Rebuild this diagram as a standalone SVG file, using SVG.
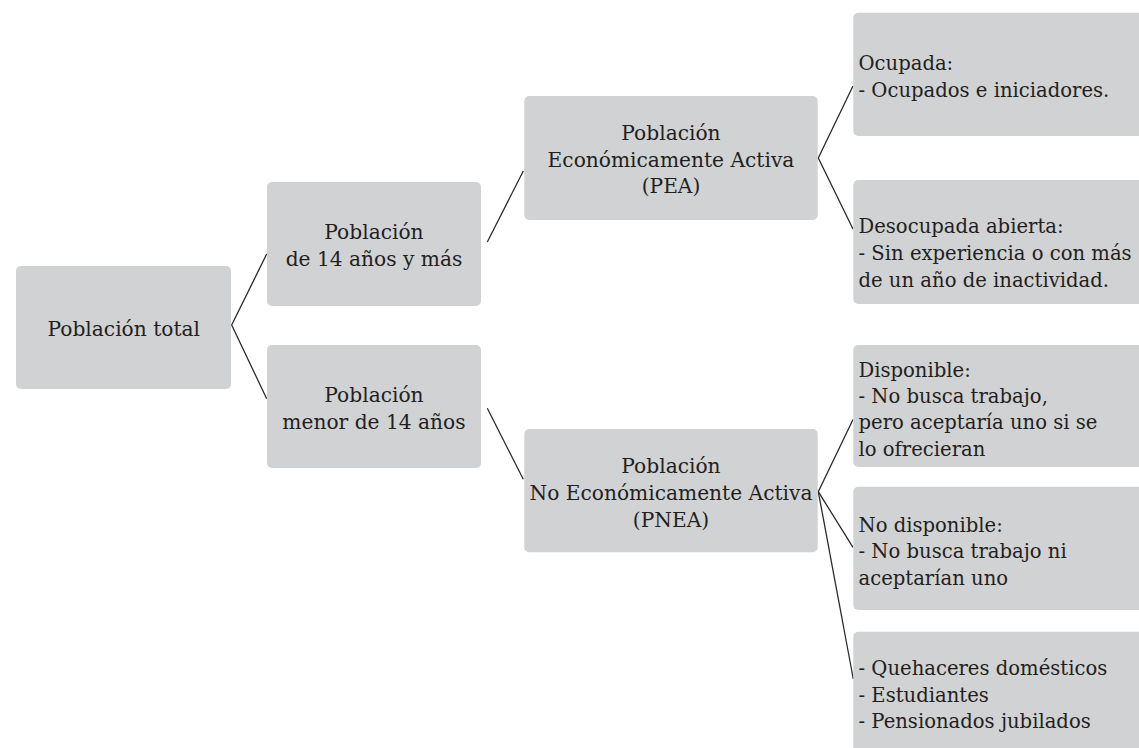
<svg xmlns="http://www.w3.org/2000/svg" width="1139" height="748" viewBox="0 0 1139 748">
<style>
.box{fill:#d1d2d4;}
.t{font-family:"DejaVu Serif","Liberation Serif",serif;font-size:20.2px;fill:#231f20;text-anchor:middle;}
.r{font-family:"DejaVu Serif","Liberation Serif",serif;font-size:19.6px;fill:#231f20;}
.c{fill:none;stroke:#2b2b2b;stroke-width:1.3;}
</style>
<rect width="1139" height="748" fill="#ffffff"/>
<g id="connectors">
<polyline class="c" points="266.7,254 231.7,325 266.7,398.7"/>
<line class="c" x1="487.3" y1="242" x2="523.3" y2="171"/>
<line class="c" x1="487.3" y1="408.3" x2="523.3" y2="479.3"/>
<polyline class="c" points="853,86 818.3,158 853,229"/>
<polyline class="c" points="853,419.5 818.3,491.7 853,547.3"/>
<line class="c" x1="818.3" y1="491.7" x2="853.3" y2="679"/>
</g>
<g id="total">
<rect class="box" x="16" y="266" width="215" height="123" rx="5"/>
<text class="t" x="123.8" y="335.7">Población total</text>
</g>
<g id="mayor14">
<rect class="box" x="267" y="182" width="214" height="124" rx="5"/>
<text class="t" x="374" y="239">Población</text>
<text class="t" x="374" y="266">de 14 años y más</text>
</g>
<g id="menor14">
<rect class="box" x="267" y="345" width="214" height="123" rx="5"/>
<text class="t" x="374" y="402.3">Población</text>
<text class="t" x="374" y="429.3">menor de 14 años</text>
</g>
<g id="pea">
<rect class="box" x="524.3" y="96" width="293.4" height="124" rx="5"/>
<text class="t" x="671" y="140">Población</text>
<text class="t" x="671" y="166.7">Económicamente Activa</text>
<text class="t" x="671" y="193.3">(PEA)</text>
</g>
<g id="pnea">
<rect class="box" x="524.3" y="429" width="293.4" height="123.3" rx="5"/>
<text class="t" x="671" y="473.3">Población</text>
<text class="t" x="671" y="500">No Económicamente Activa</text>
<text class="t" x="671" y="526.7">(PNEA)</text>
</g>
<g id="ocupada">
<rect class="box" x="853.3" y="12.7" width="295" height="123.3" rx="5"/>
<text class="r" x="858.5" y="70">Ocupada:</text>
<text class="r" x="858.5" y="96.7">- Ocupados e iniciadores.</text>
</g>
<g id="desocupada">
<rect class="box" x="853.3" y="180" width="295" height="124" rx="5"/>
<text class="r" x="858.5" y="233.3">Desocupada abierta:</text>
<text class="r" x="858.5" y="260">- Sin experiencia o con más</text>
<text class="r" x="858.5" y="286.7">de un año de inactividad.</text>
</g>
<g id="disponible">
<rect class="box" x="853.3" y="345" width="295" height="122" rx="5"/>
<text class="r" x="858.5" y="376.7">Disponible:</text>
<text class="r" x="858.5" y="403">- No busca trabajo,</text>
<text class="r" x="858.5" y="429.4">pero aceptaría uno si se</text>
<text class="r" x="858.5" y="456">lo ofrecieran</text>
</g>
<g id="nodisponible">
<rect class="box" x="853.3" y="486.7" width="295" height="123.3" rx="5"/>
<text class="r" x="858.5" y="531.7">No disponible:</text>
<text class="r" x="858.5" y="558.3">- No busca trabajo ni</text>
<text class="r" x="858.5" y="584.5">aceptarían uno</text>
</g>
<g id="otros">
<rect class="box" x="853.3" y="631.7" width="295" height="130" rx="5"/>
<text class="r" x="858.5" y="675">- Quehaceres domésticos</text>
<text class="r" x="858.5" y="701.7">- Estudiantes</text>
<text class="r" x="858.5" y="728.3">- Pensionados jubilados</text>
</g>
</svg>
